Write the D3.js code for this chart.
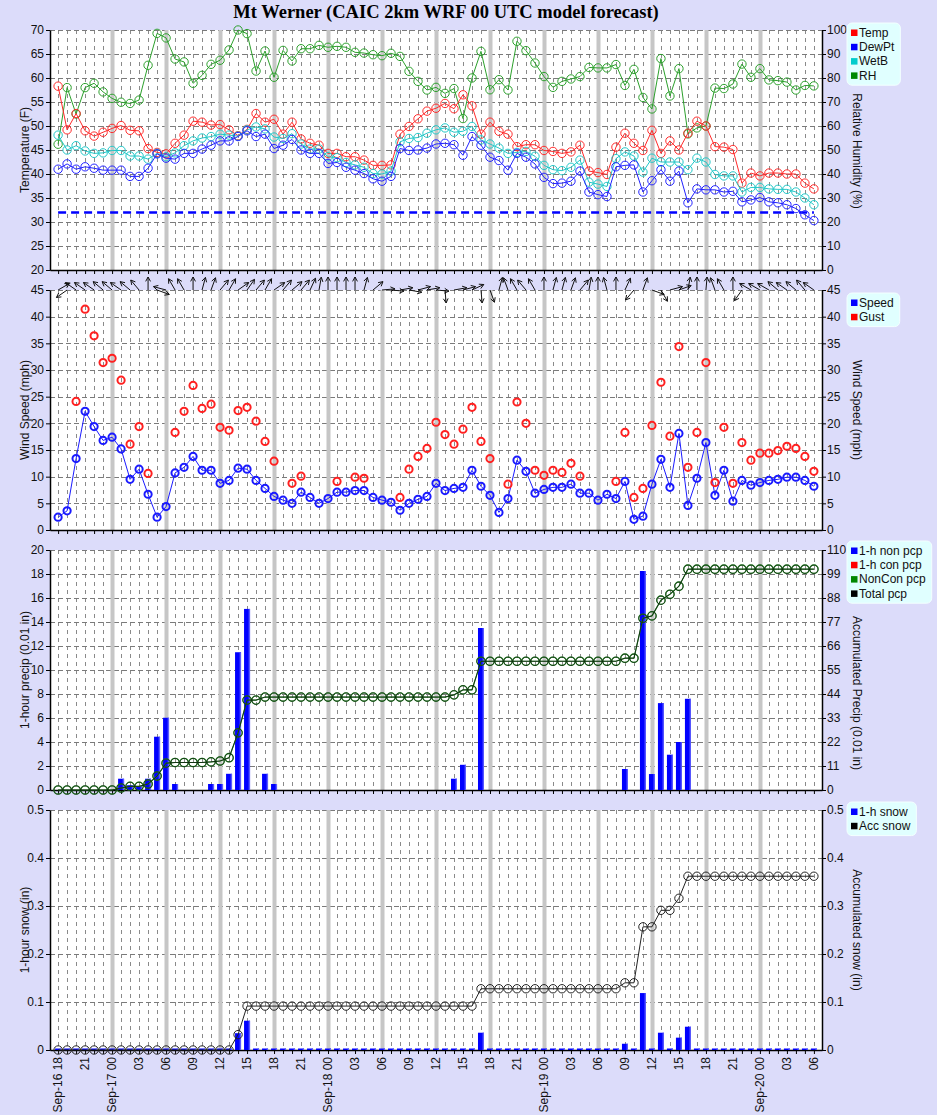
<!DOCTYPE html>
<html><head><meta charset="utf-8">
<script src="https://cdn.jsdelivr.net/npm/d3@7"></script>
<style>
body{margin:0;background:#dcdcfa;}
svg{display:block;}
text{font-family:"Liberation Sans",Arial,sans-serif;}
</style>
</head><body>
<svg id="c" width="937" height="1115"></svg>
<script>
// ---------------- DATA ----------------
const timeLabels = ["Sep-16 18","21","Sep-17 00","03","06","09","12","15","18","21","Sep-18 00","03","06","09","12","15","18","21","Sep-19 00","03","06","09","12","15","18","21","Sep-20 00","03","06"];

const temp = [58.3,49.2,52.6,49.0,47.9,48.7,49.5,50.1,49.1,49.0,45.3,
 44.5,44.2,46.4,48.1,51.0,50.8,50.2,50.3,49.2,48.0,
 49.3,52.6,50.8,51.4,48.3,50.8,47.3,46.4,46.0,44.3,
 44.3,43.6,43.6,42.9,41.8,41.8,41.9,48.3,49.9,51.5,
 53.1,53.7,54.7,53.6,56.5,54.2,48.3,50.8,48.9,48.3,
 45.7,46.1,46.1,44.9,44.7,44.3,44.6,46.0,40.6,40.3,
 39.9,45.6,48.5,46.4,44.9,49.1,44.3,46.9,45.0,48.5,
 51.0,50.0,45.7,45.6,45.1,38.1,40.2,39.6,40.2,40.2,
 40.0,40.0,38.1,36.9];
const dewpt = [41.0,42.1,41.0,41.5,41.2,40.8,40.8,40.8,39.5,39.5,41.2,
 44.2,43.3,43.1,44.3,44.3,45.2,46.0,46.9,46.9,47.8,
 49.0,47.8,48.3,45.3,46.0,47.2,45.0,44.3,44.3,42.2,
 42.4,41.4,40.8,40.1,39.0,38.5,39.5,45.3,44.9,45.0,
 45.4,46.25,46.4,46.1,43.9,47.8,46.0,43.5,42.8,40.8,
 44.3,43.5,42.1,39.3,38.0,38.1,38.5,40.6,36.25,35.7,
 35.3,41.5,41.8,41.9,36.25,38.6,40.9,38.5,40.6,34.0,
 36.9,36.7,36.7,36.25,36.4,34.2,34.6,35.1,34.2,34.0,
 33.6,32.8,31.5,30.3];
const wetb = [48.1,45.0,45.9,44.8,44.3,44.4,44.9,44.9,43.75,43.75,43.1,
 44.3,43.6,44.4,45.9,46.9,47.5,47.8,48.3,48.1,47.9,
 49.2,49.8,49.4,47.7,47.4,48.4,46.25,45.2,45.2,43.6,
 43.4,42.4,41.9,41.4,40.1,40.0,40.6,46.7,47.4,47.6,
 48.5,49.2,49.6,48.7,48.9,49.9,47.1,46.25,45.4,44.3,
 44.5,44.7,43.7,41.8,40.9,40.7,41.4,42.9,38.3,37.9,
 37.4,43.2,44.6,43.75,40.4,43.3,42.5,42.5,42.5,40.9,
 43.3,42.5,39.9,39.6,39.6,36.25,37.2,37.2,36.9,36.8,
 36.8,36.25,35.0,33.6];
const rh = [52.4,76.0,65.0,76.0,77.8,74.2,71.5,69.9,69.4,70.8,85.3,
 98.6,96.7,87.9,86.7,77.8,81.1,85.7,87.4,91.7,100,
 98.5,82.9,91.25,80.3,91.5,87.1,92.2,92.2,93.6,92.8,
 93.2,92.8,90.7,90.4,89.7,89.3,90.3,89.0,82.8,78.6,
 75.0,76.1,73.6,75.6,63.1,80.0,91.1,75.1,79.3,75.0,
 95.3,91.4,86.25,80.6,76.1,78.6,79.6,80.6,84.4,84.2,
 84.2,85.6,76.9,83.6,71.9,67.1,88.1,72.5,83.9,56.7,
 59.2,60.0,75.8,75.6,77.5,85.8,80.3,83.9,79.2,78.9,
 78.3,75.0,76.9,76.7];
const freezing = 32;

const speed = [2.4,3.6,13.4,22.25,19.4,16.8,17.4,15.2,9.5,11.4,6.7,
 2.4,4.4,10.7,11.75,13.8,11.2,11.2,8.75,9.3,11.6,
 11.4,9.3,7.8,6.3,5.6,5.0,7.1,6.1,5.0,5.9,
 7.1,7.1,7.4,7.4,6.1,5.6,5.2,3.7,5.0,5.75,
 6.3,8.75,7.4,7.8,8.0,11.2,8.2,6.5,3.3,5.9,
 13.1,11.0,6.9,7.6,8.0,8.0,8.6,6.9,6.9,5.6,
 6.7,5.9,9.1,2.0,2.6,8.6,13.25,8.0,18.1,4.6,
 9.7,16.4,6.5,11.2,5.4,9.3,8.4,8.9,9.3,9.5,
 9.9,9.9,9.3,8.2];
const gust = [null,null,24.1,41.4,36.4,31.4,32.2,28.1,16.1,19.4,10.6,
 null,null,18.3,22.25,27.1,22.8,23.6,19.25,18.7,22.4,
 23.0,20.4,16.6,12.9,null,8.75,10.1,null,null,null,
 9.1,null,9.9,9.7,null,null,null,6.1,11.4,13.8,
 15.3,20.2,17.9,16.1,18.9,23.0,16.6,13.4,null,8.6,
 24.0,20.0,11.2,10.25,11.2,10.8,12.5,10.1,null,null,
 null,9.1,18.3,6.1,7.8,19.6,27.7,17.6,34.4,11.75,
 18.3,31.4,8.9,19.25,8.75,16.4,13.1,14.4,14.4,14.9,
 15.7,15.3,13.8,11.0];
// direction the arrow points to (degrees clockwise from up)
const windDir = [60,235,305,305,305,310,310,305,310,320,0,
 110,285,330,330,0,15,20,40,30,55,
 35,40,30,55,40,50,40,25,10,0,
 0,0,0,15,50,85,95,80,100,75,
 80,95,175,80,75,65,175,160,15,340,
 330,320,330,0,15,15,20,40,10,0,
 345,0,25,220,20,110,150,75,70,10,
 0,5,340,330,0,215,300,300,300,310,
 305,310,320,305];

const pcpNon = [0,0,0,0,0,0,0,0.94,0.4,0.3,0.94,
 4.44,6.02,0.5,0,0,0,0.5,0.5,1.35,11.48,
 15.09,0,1.35,0.5,0,0,0,0,0,0,
 0,0,0,0,0,0,0,0,0,0,
 0,0,0,0.94,2.1,0,13.5,0,0,0,
 0,0,0,0,0,0,0,0,0,0,
 0,0,1.75,0,18.25,1.33,7.24,2.94,4.0,7.6,
 0,0,0,0,0,0,0,0,0,0,
 0,0,0,0];
const pcpCon = new Array(85).fill(0);
const pcpAcc = [0,0,0,0,0,0,0,0.92,1.68,1.68,2.75,
 6.4,12.3,12.6,12.6,12.6,12.6,12.9,13.3,14.8,26.2,
 41.2,41.2,42.6,42.6,42.6,42.6,42.6,42.6,42.6,42.6,
 42.6,42.6,42.6,42.6,42.6,42.6,42.6,42.6,42.6,42.6,
 42.6,42.6,42.6,43.6,45.9,45.9,59.0,59.0,59.0,59.0,
 59.0,59.0,59.0,59.0,59.0,59.0,59.0,59.0,59.0,59.0,
 59.0,59.0,60.4,60.4,78.7,79.8,87.0,89.7,93.4,101.2,
 101.2,101.2,101.2,101.2,101.2,101.2,101.2,101.2,101.2,101.2,
 101.2,101.2,101.2,101.2];

const snow1h = [0,0,0,0,0,0,0,0,0,0,0,
 0,0,0,0,0,0,0,0,0,0.035,
 0.061,0,0,0,0,0,0,0,0,0,
 0,0,0,0,0,0,0,0,0,0,
 0,0,0,0,0,0,0.036,0,0,0,
 0,0,0,0,0,0,0,0,0,0,
 0,0,0.013,0,0.1186,0,0.036,0,0.0257,0.0485,
 0,0,0,0,0,0,0,0,0,0,
 0,0,0,0];
const snowAcc = [0,0,0,0,0,0,0,0,0,0,0,
 0,0,0,0,0,0,0,0,0,0.032,
 0.0915,0.0915,0.0915,0.0915,0.0915,0.0915,0.0915,0.0915,0.0915,0.0915,
 0.0915,0.0915,0.0915,0.0915,0.0915,0.0915,0.0915,0.0915,0.0915,0.0915,
 0.0915,0.0915,0.0915,0.0915,0.0915,0.0915,0.1276,0.1276,0.1276,0.1276,
 0.1276,0.1276,0.1276,0.1276,0.1276,0.1276,0.1276,0.1276,0.1276,0.1276,
 0.1276,0.1276,0.140,0.140,0.2566,0.2566,0.291,0.291,0.316,0.362,
 0.362,0.362,0.362,0.362,0.362,0.362,0.362,0.362,0.362,0.362,
 0.362,0.362,0.362,0.362];

// ---------------- LAYOUT ----------------
const W = 937, H = 1115, X0 = 50, X1 = 822;
const idx = d3.range(temp.length);
const x = d3.scaleLinear().domain([-0.9, 84.9]).range([X0, X1]);
const gx = h => Math.round(x(h)) + 0.5;
const svg = d3.select("#c");
svg.append("rect").attr("width", W).attr("height", H).attr("fill", "#dcdcfa");

svg.append("text").attr("x", 446).attr("y", 18).attr("text-anchor", "middle")
  .style("font-family", '"Liberation Serif","Times New Roman",serif')
  .style("font-weight", "bold").style("font-size", "18.5px").text("Mt Werner (CAIC 2km WRF 00 UTC model forecast)");

function frame(top, bot, yL, yR, lt, rt, lf, rf, ltitle, rtitle, rMid) {
  const g = svg.append("g");
  g.append("rect").attr("x", X0).attr("y", top).attr("width", X1 - X0).attr("height", bot - top).attr("fill", "#fff");
  g.selectAll(null).data(idx.filter(h => h % 6 !== 0 || h === 0 || h === 84)).join("line")
    .attr("x1", h => gx(h)).attr("x2", h => gx(h)).attr("y1", top).attr("y2", bot)
    .attr("stroke", "#8a8a8a").attr("stroke-width", 1).attr("stroke-dasharray", "4,4");
  g.selectAll(null).data(lt).join("line")
    .attr("x1", X0).attr("x2", X1).attr("y1", v => Math.round(yL(v)) + 0.5).attr("y2", v => Math.round(yL(v)) + 0.5)
    .attr("stroke", "#7a7a7a").attr("stroke-width", 1).attr("stroke-dasharray", "5,3");
  g.selectAll(null).data(idx.filter(h => h % 6 === 0 && h > 0 && h < 84)).join("line")
    .attr("x1", h => gx(h)).attr("x2", h => gx(h)).attr("y1", top).attr("y2", bot)
    .attr("stroke", "#c6c6c6").attr("stroke-width", 4);
  const ax = [];
  ax.push(g.append("g").attr("transform", `translate(${X0},0)`)
    .call(d3.axisLeft(yL).tickValues(lt).tickFormat(lf).tickSize(4).tickPadding(2).tickSizeOuter(0)));
  ax.push(g.append("g").attr("transform", `translate(${X1},0)`)
    .call(d3.axisRight(yR).tickValues(rt).tickFormat(rf).tickSize(4).tickPadding(1).tickSizeOuter(0)));
  ax.push(g.append("g").attr("transform", `translate(0,${bot})`)
    .call(d3.axisBottom(x).tickValues(idx).tickFormat("").tickSize(4).tickSizeOuter(0)));
  ax.forEach(a => {
    a.attr("font-family", '"Liberation Sans",Arial,sans-serif').attr("font-size", 12);
    a.selectAll("text").attr("fill", "#111");
    a.select(".domain").attr("stroke", "#000").attr("stroke-width", 1.5);
  });
  g.append("text").attr("transform", `translate(25,${(top + bot) / 2}) rotate(-90)`)
    .attr("text-anchor", "middle").attr("dy", "0.35em").style("font-size", "12px").attr("fill", "#111").text(ltitle);
  g.append("text").attr("transform", `translate(857,${rMid}) rotate(90)`)
    .attr("text-anchor", "middle").attr("dy", "0.35em").style("font-size", "12px").attr("fill", "#111").text(rtitle);
  return g;
}

function legend(lx, ly, items) {
  const g = svg.append("g");
  const box = g.append("rect").attr("x", lx).attr("y", ly).attr("rx", 5)
    .attr("fill", "#e0ffff").attr("stroke", "#f4ffff").attr("stroke-width", 1);
  let maxw = 0;
  items.forEach((it, i) => {
    const cy = ly + 9.5 + i * 14.3;
    g.append("rect").attr("x", lx + 4).attr("y", cy - 3).attr("width", 6.5).attr("height", 6.5).attr("fill", it[1]);
    const t = g.append("text").attr("x", lx + 12).attr("y", cy).attr("dy", "0.35em")
      .style("font-size", "12px").attr("fill", "#111").text(it[0]);
    maxw = Math.max(maxw, t.node().getComputedTextLength());
  });
  box.attr("width", maxw + 18).attr("height", items.length * 14.3 + 5);
}

function series(g, data, y, color, r, sw, drawLine, lw) {
  const pts = idx.filter(i => data[i] !== null);
  if (drawLine) {
    g.append("path").datum(pts).attr("fill", "none").attr("stroke", color).attr("stroke-width", lw)
      .attr("d", d3.line().x(i => x(i)).y(i => y(data[i])));
  }
  g.selectAll(null).data(pts).join("circle")
    .attr("cx", i => x(i)).attr("cy", i => y(data[i])).attr("r", r)
    .attr("fill", "none").attr("stroke", color).attr("stroke-width", sw);
}

// ---------- Panel 1: temperature ----------
const yT = d3.scaleLinear().domain([20, 70]).range([270, 30]);
const yRH = d3.scaleLinear().domain([0, 100]).range([270, 30]);
const g1 = frame(30, 270, yT, yRH, d3.range(20, 71, 5), d3.range(0, 101, 10), d3.format("d"), d3.format("d"),
  "Temperature (F)", "Relative Humidity (%)", 151);
g1.append("line").attr("x1", x(0)).attr("x2", x(84)).attr("y1", yT(freezing)).attr("y2", yT(freezing))
  .attr("stroke", "#0000ff").attr("stroke-width", 2.5).attr("stroke-dasharray", "8,5");
series(g1, rh, yRH, "#2ca02c", 4.2, 1, true, 1);
series(g1, temp, yT, "#ff2a2a", 4.2, 1, true, 1);
series(g1, wetb, yT, "#22c8c8", 4.2, 1, true, 1);
series(g1, dewpt, yT, "#2222ff", 4.2, 1, true, 1);
legend(847, 23, [["Temp", "#ff0000"], ["DewPt", "#0000ff"], ["WetB", "#00cccc"], ["RH", "#008800"]]);

// ---------- Panel 2: wind ----------
const yW = d3.scaleLinear().domain([0, 45]).range([530, 290]);
const g2 = frame(290, 530, yW, yW, d3.range(0, 46, 5), d3.range(0, 46, 5), d3.format("d"), d3.format("d"),
  "Wind Speed (mph)", "Wind Speed (mph)", 410);
series(g2, speed, yW, "#1a1aff", 3.6, 2, true, 1);
series(g2, gust, yW, "#ff2020", 3.6, 2, false, 1);
const arrowG = svg.append("g").attr("stroke", "#111").attr("stroke-width", 1).attr("fill", "none");
const AL = 13, AH = 5;
idx.forEach(i => {
  const a = windDir[i] * Math.PI / 180;
  const x0 = x(i), y0 = yW(45);
  const x1 = x0 + AL * Math.sin(a), y1 = y0 - AL * Math.cos(a);
  const b1 = a + Math.PI - 0.5, b2 = a + Math.PI + 0.5;
  arrowG.append("path").attr("d",
    `M${x0},${y0}L${x1},${y1}M${x1 + AH * Math.sin(b1)},${y1 - AH * Math.cos(b1)}L${x1},${y1}L${x1 + AH * Math.sin(b2)},${y1 - AH * Math.cos(b2)}`);
});
legend(847, 293, [["Speed", "#0000ff"], ["Gust", "#ff0000"]]);

// ---------- Panel 3: precipitation ----------
const yP = d3.scaleLinear().domain([0, 20]).range([790, 550]);
const yPA = d3.scaleLinear().domain([0, 110]).range([790, 550]);
const g3 = frame(550, 790, yP, yPA, d3.range(0, 21, 2), d3.range(0, 111, 11), d3.format("d"), d3.format("d"),
  "1-hour precip (0.01 in)", "Accumulated Precip (0.01 in)", 693);
function bars(g, data, y, bot, minH) {
  const pts = idx.filter(i => data[i] > 0 || minH > 0);
  g.selectAll(null).data(pts).join("rect")
    .attr("x", i => x(i) - 3).attr("width", 6)
    .attr("y", i => Math.min(y(data[i]), bot - minH)).attr("height", i => Math.max(bot - y(data[i]), minH))
    .attr("fill", "#0000ff");
  g.selectAll(null).data(pts).join("rect")
    .attr("x", i => x(i) + 1.6).attr("width", 1.4)
    .attr("y", i => Math.min(y(data[i]), bot - minH)).attr("height", i => Math.max(bot - y(data[i]), minH))
    .attr("fill", "#5a5aff");
}
bars(g3, pcpNon, yP, 790, 0);
g3.selectAll(null).data(idx.filter(i => pcpCon[i] > 0)).join("rect")
  .attr("x", i => x(i) - 3).attr("width", 6).attr("y", i => yP(pcpCon[i])).attr("height", i => 790 - yP(pcpCon[i])).attr("fill", "#ff0000");
series(g3, pcpAcc, yPA, "#2a8a2a", 4.2, 1.3, true, 1.2);
series(g3, pcpAcc, yPA, "#0c200c", 4.2, 0.7, true, 0.8);
legend(847, 541, [["1-h non pcp", "#0000ff"], ["1-h con pcp", "#ff0000"], ["NonCon pcp", "#008800"], ["Total pcp", "#000000"]]);

// ---------- Panel 4: snow ----------
const yS = d3.scaleLinear().domain([0, 0.5]).range([1050, 810]);
const sf = v => v === 0 ? "0" : d3.format(".1f")(v);
const g4 = frame(810, 1050, yS, yS, d3.range(0, 6).map(k => k / 10), d3.range(0, 6).map(k => k / 10), sf, sf,
  "1-hour snow (in)", "Accumulated snow (in)", 930);
bars(g4, snow1h, yS, 1050, 1.5);
series(g4, snowAcc, yS, "#222", 4.2, 1, true, 1);
legend(847, 802, [["1-h snow", "#0000ff"], ["Acc snow", "#000000"]]);

// x labels
svg.append("g").selectAll(null).data(timeLabels).join("text")
  .attr("transform", (d, k) => `translate(${x(k * 3)},1057) rotate(-90)`)
  .attr("text-anchor", "end").attr("dy", "0.35em").style("font-size", "12px").attr("fill", "#111")
  .text(d => d);
</script>
</body></html>
